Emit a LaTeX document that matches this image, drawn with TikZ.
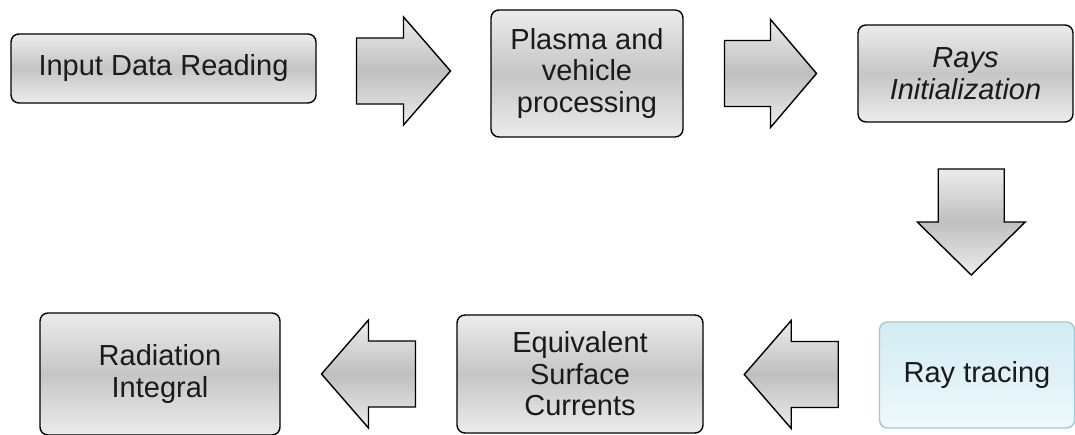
\documentclass[tikz,border=0pt]{standalone}
\usepackage{fontspec}
\setmainfont{Liberation Sans}
\usetikzlibrary{calc}
\definecolor{textdark}{HTML}{1A1A1A}
\definecolor{raytop}{HTML}{D3ECF4}
\definecolor{raybot}{HTML}{F0F9FC}
\definecolor{rayline}{HTML}{9FC8D4}

\tikzset{
  pics/blockarrow/.style={code={
    \path[arrowshape] (-#1,-33) -- (0,-33) -- (0,-54) -- (#1,0) -- (0,54) -- (0,33) -- (-#1,33) -- cycle;
  }}
}

\begin{document}
\begin{tikzpicture}[x=1pt, y=1pt,
  stage/.style={rectangle, draw=black, line width=1.4pt, rounded corners=8pt, top color=gray!15, bottom color=gray!15, middle color=gray!45, align=center, text=textdark, font=\fontsize{29}{31.5}\selectfont, inner sep=0pt},
  lightstage/.style={stage, draw=rayline, top color=raytop, bottom color=raybot, middle color=raytop!60!raybot},
  arrowshape/.style={draw=black, line width=1.4pt, line join=miter, top color=gray!15, bottom color=gray!15, middle color=gray!50}
]
\useasboundingbox (0,0) rectangle (1075,435);

% top row
\node[stage, minimum width=305, minimum height=69] (inp) at (163.5,366.5) {Input Data Reading};
\node[stage, minimum width=192, minimum height=127] (plasma) at (587,361.5) {Plasma and\\vehicle\\processing};
\node[stage, minimum width=215, minimum height=97, font=\fontsize{29}{31.5}\selectfont\itshape] (rays) at (965.5,361.5) {Rays\\Initialization};

% bottom row
\node[lightstage, minimum width=195, minimum height=106] (raytr) at (977,60) {Ray tracing};
\node[stage, minimum width=246, minimum height=118] (equiv) at (580,61) {Equivalent\\Surface\\Currents};
\node[stage, minimum width=240, minimum height=122] (radint) at (160,61) {Radiation\\Integral};

% block arrows
\pic at ($(inp.east)!0.5!(plasma.west)$) {blockarrow=47};
\pic at ($(plasma.east)!0.5!(rays.west)$) {blockarrow=46};
\pic[rotate=-90] at ($(rays.south)!0.5!(raytr.north)$) {blockarrow=53};
\pic[rotate=180] at ($(raytr.west)!0.5!(equiv.east)$) {blockarrow=47};
\pic[rotate=180] at ($(equiv.west)!0.5!(radint.east)$) {blockarrow=47};

\end{tikzpicture}
\end{document}
